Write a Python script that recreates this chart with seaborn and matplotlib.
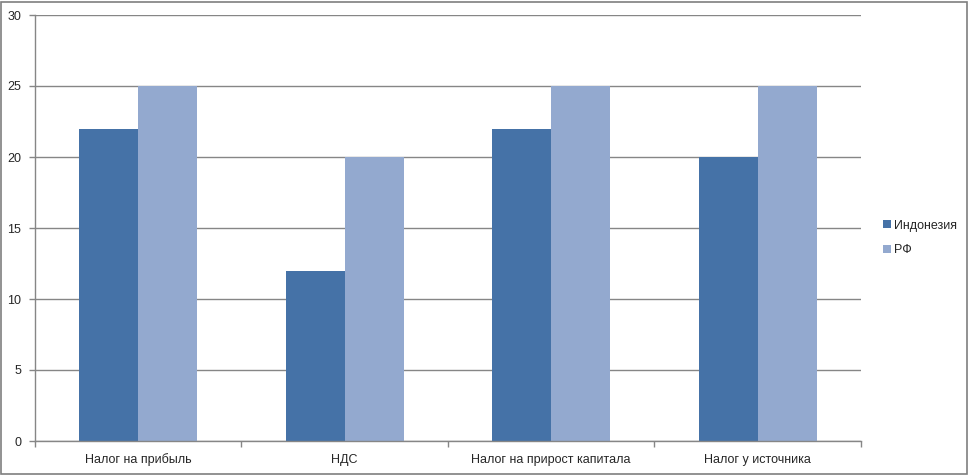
import matplotlib
matplotlib.use("Agg")
import matplotlib.pyplot as plt
import numpy as np
import pandas as pd
import seaborn as sns
from matplotlib.patches import Rectangle

categories = ["Налог на прибыль", "НДС", "Налог на прирост капитала", "Налог у источника"]
indonesia = [22, 12, 22, 20]
rf = [25, 20, 25, 25]
series_names = ["Индонезия", "РФ"]
y_ticks = [0, 5, 10, 15, 20, 25, 30]

df = pd.DataFrame(
    [{"cat": c, "country": series_names[0], "value": v} for c, v in zip(categories, indonesia)]
    + [{"cat": c, "country": series_names[1], "value": v} for c, v in zip(categories, rf)]
)

sns.set_style("white")
plt.rcParams["font.family"] = ["Liberation Sans", "DejaVu Sans"]

grid_color = "#868686"
colors = ["#4572A7", "#93A9CF"]

fig = plt.figure(figsize=(9.7, 4.76), dpi=100)
ax = fig.add_axes([35 / 970, 1 - 441 / 476, (861 - 35) / 970, (441 - 15) / 476])

sns.barplot(data=df, x="cat", y="value", hue="country", palette=colors,
            width=0.571, gap=0, saturation=1, linewidth=0, ax=ax)

ax.set_xlim(-0.5, len(categories) - 0.5)
ax.set_ylim(0, 30)
ax.set_yticks(y_ticks)
ax.yaxis.grid(True, color=grid_color, linewidth=1)
ax.set_axisbelow(True)
ax.set_xlabel("")
ax.set_ylabel("")

for side in ["top", "right"]:
    ax.spines[side].set_visible(False)
for side in ["left", "bottom"]:
    ax.spines[side].set_color(grid_color)
    ax.spines[side].set_linewidth(1)

ax.tick_params(axis="y", length=4, color=grid_color, width=1, labelsize=9, pad=6, left=True)
ax.tick_params(axis="x", which="major", length=0, labelsize=9, pad=9)
ax.set_xticks(np.arange(-0.5, len(categories)), minor=True)
ax.tick_params(axis="x", which="minor", length=4, color=grid_color, width=1, bottom=True)

ax.legend(loc="center left", bbox_to_anchor=(872 / 970, 0.5), bbox_transform=fig.transFigure,
          frameon=False, fontsize=9, handlelength=0.6, handleheight=0.6, handletextpad=0.3,
          labelspacing=1.0)

# outer chart border
fig.patches.append(Rectangle((1 / 970, 2 / 476), 966 / 970, 472 / 476, transform=fig.transFigure,
                             fill=False, edgecolor="#7f7f7f", linewidth=1.2))

fig.savefig("out.png", dpi=100)
